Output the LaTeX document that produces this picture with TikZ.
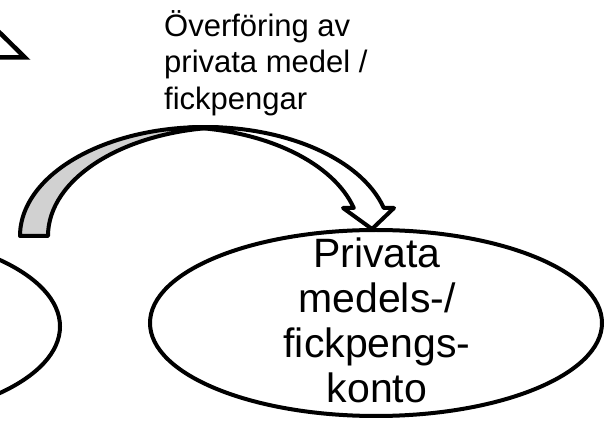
\documentclass[tikz,border=0pt]{standalone}
\usepackage{fontspec}
\setmainfont{Liberation Sans}
\usetikzlibrary{shapes.geometric}
\tikzset{
	konto/.style={draw,ellipse,inner sep=0pt,line width=4pt},
	band/.style={draw,line width=4pt,line join=round},
}
\begin{document}
\begin{tikzpicture}[x=1pt,y=1pt]
	\useasboundingbox (0,0) rectangle (606,426);
	\coordinate (o) at (205,190); % outer arc of the bent arrow
	\coordinate (og) at (233,190); % inner edge of the grey back
	\coordinate (ow) at (175,190); % inner edge of the white front
	\draw[line width=4.5pt,line join=miter] (-3,396) -- (25,368.5) -- (-3,368.5);
	\node[konto,minimum width=420pt,minimum height=190pt] (kassa) at (-150,99.5) {};
	\node[konto,minimum width=452pt,minimum height=186pt] (privat) at (376,103) {};
	\node[align=center,inner sep=0pt,font={\fontsize{41}{45}\selectfont}] (privattext) at (377,106) {Privata\\medels-/\\fickpengs-\\konto};
	\node[anchor=north west,align=left,inner sep=0pt,font={\fontsize{31}{36.5}\selectfont}] (overforing) at (164,416) {Överföring av\\privata medel /\\fickpengar};
	\draw[band,fill=black!18] ([shift={(180:185 and 109)}]o) arc[start angle=180,end angle=85.66,x radius=185,y radius=109]
		arc[start angle=94.34,end angle=180,x radius=185,y radius=109] -- cycle;
	\draw[band,fill=white] ([shift={(94.72:185 and 109)}]o) arc[start angle=94.72,end angle=14.9,x radius=185,y radius=109]
		-- (394,218) -- (372,197) -- (343,218) -- ([shift={(14.9:185 and 109)}]ow)
		arc[start angle=14.9,end angle=85.35,x radius=185,y radius=109] -- cycle;
\end{tikzpicture}
\end{document}
